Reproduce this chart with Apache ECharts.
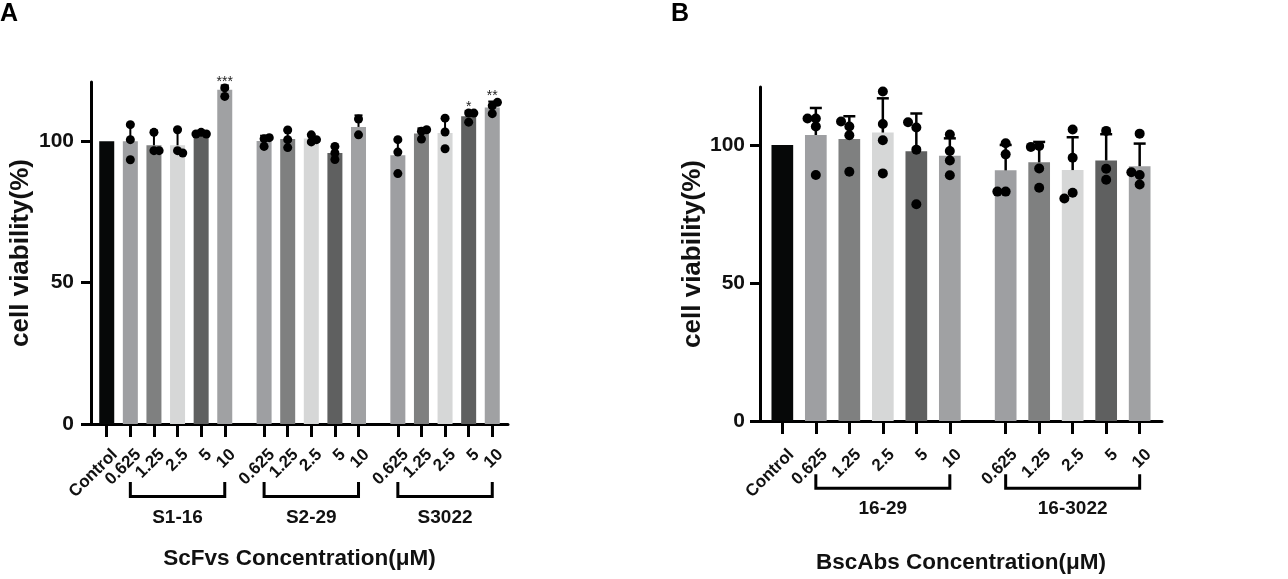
<!DOCTYPE html>
<html>
<head>
<meta charset="utf-8">
<title>cell viability</title>
<script src="https://cdn.jsdelivr.net/npm/echarts@6/dist/echarts.min.js"></script>
<style>
html, body { margin: 0; padding: 0; background: #fff; }
#chart { width: 1288px; height: 579px; }
</style>
</head>
<body>
<div id="chart"></div>
<script>
// ---- data ----
var doses = ['0.625', '1.25', '2.5', '5', '10'];
var yTicks = [0, 50, 100];

// panel A : ScFvs
var groupsA = ['S1-16', 'S2-29', 'S3022'];
var meanA = [100, 100, 98.6, 98.6, 103.3, 118.3, 100.1, 100.8, 101, 95.9, 105.1, 95.1, 102.8, 103, 108.9, 112];
var sdA = [0, 6.2, 5.2, 5.8, 0.4, 1.5, 1.9, 3.1, 1.3, 2.3, 4.1, 5.7, 1.8, 5.6, 1.9, 2.1];
var pointsA = [
  [],
  [105.9, 100.6, 93.5], [103.2, 96.7, 96.7], [104.1, 96.7, 95.9], [103.2, 102.6, 102.6], [118.9, 115.9],
  [98.2, 100.9, 101.3], [104.0, 100.6, 97.8], [102.3, 100.6, 99.8], [98.2, 95.9, 93.6], [107.9, 102.3],
  [100.6, 96.2, 88.6], [100.8, 103.6, 104.1], [108.2, 103.3, 97.4], [106.8, 110, 110], [109.8, 112.6, 113.8]
];
var starsA = ['', '', '', '', '', '***', '', '', '', '', '', '', '', '', '*', '**'];

// panel B : BscAbs
var groupsB = ['16-29', '16-3022'];
var meanB = [100, 103.6, 102.2, 104.5, 97.7, 96.1, 90.8, 93.7, 90.9, 94.4, 92.3];
var sdB = [0, 9.8, 8.2, 12.4, 13.7, 6.3, 9.2, 7.4, 11.9, 9.5, 8.2];
var pointsB = [
  [],
  [109.6, 109.6, 106.7, 89.1], [106.7, 108.5, 103.5, 90.3], [119.4, 107.6, 101.7, 89.7],
  [106.3, 108.2, 98.3, 78.5], [103.8, 97.8, 94.4, 89.0],
  [100.6, 96.6, 83.1, 83.1], [99.6, 99.3, 91.5, 84.5], [105.6, 95.4, 82.7, 80.6],
  [105.1, 91.4, 87.4], [104.1, 89.1, 90.1, 85.7]
];
var starsB = ['', '', '', '', '', '', '', '', '', '', ''];

// ---- styles ----
var FONT = "'Liberation Sans', Arial, Helvetica, sans-serif";
var INK = '#111';
var controlColor = '#060808';
var doseColors = ['#9e9fa2', '#7f8080', '#d6d7d7', '#5f6060', '#a0a1a3'];

// slots on the category axis: 3 slots per bar, 5 between groups, 2 at each end
function layoutSlots(nGroups, nDoses) {
  var pos = [2], span = [];
  var s = 2;
  for (var g = 0; g < nGroups; g++) {
    s += (g === 0 ? 3 : 5);
    var first = s;
    for (var d = 0; d < nDoses; d++) {
      if (d > 0) s += 3;
      pos.push(s);
    }
    span.push([first, s]);
  }
  var labels = [];
  for (var k = 0; k < s + 3; k++) labels.push('');
  labels[pos[0]] = 'Control';
  for (var j = 1; j < pos.length; j++) labels[pos[j]] = doses[(j - 1) % nDoses];
  return { pos: pos, span: span, labels: labels };
}

function makePanel(idx, cfg) {
  var lay = layoutSlots(cfg.groups.length, doses.length);
  var showIt = function (i, v) { return v !== ''; };

  var barData = lay.labels.map(function () { return '-'; });
  var markData = [];
  lay.pos.forEach(function (p, i) {
    var col = i === 0 ? controlColor : doseColors[(i - 1) % doses.length];
    barData[p] = { value: cfg.mean[i], itemStyle: { color: col } };
    markData.push([p, cfg.mean[i], cfg.sd[i], i]);
  });

  var grid = { left: cfg.left, top: cfg.top, width: cfg.width, height: cfg.height };

  var xAxis = {
    type: 'category', gridIndex: idx, data: lay.labels, boundaryGap: false,
    axisLine: { lineStyle: { color: '#000', width: 3 } },
    axisTick: { interval: showIt, length: 13, lineStyle: { color: '#000', width: 3 } },
    axisLabel: { show: false },
    splitLine: { show: false },
    name: cfg.xName, nameLocation: 'middle', nameGap: cfg.xNameGap,
    nameTextStyle: { color: INK, fontSize: 22.5, fontWeight: 'bold', fontFamily: FONT }
  };

  var yAxis = {
    type: 'value', gridIndex: idx, min: 0, max: 121, interval: 50,
    axisLine: { show: true, lineStyle: { color: '#000', width: 3 } },
    axisTick: { show: true, length: 10, customValues: yTicks, lineStyle: { color: '#000', width: 3 } },
    axisLabel: { customValues: yTicks, margin: cfg.yLabelMargin, color: INK, fontSize: 21, fontWeight: 'bold', fontFamily: FONT },
    splitLine: { show: false },
    name: 'cell viability(%)', nameLocation: 'middle', nameRotate: 90, nameGap: cfg.yNameGap,
    nameTextStyle: { color: INK, fontSize: 26, fontWeight: 'bold', fontFamily: FONT }
  };

  var bars = {
    type: 'bar', xAxisIndex: idx, yAxisIndex: idx, data: barData,
    barWidth: cfg.barWidth, silent: true
  };

  // error bars (upper only), jittered points, significance marks, rotated dose labels
  var marks = {
    type: 'custom', xAxisIndex: idx, yAxisIndex: idx, data: markData, clip: false, z: 5,
    renderItem: function (params, api) {
      var x = api.value(0), m = api.value(1), sd = api.value(2), i = api.value(3);
      var base = api.coord([x, m]);
      var top = api.coord([x, m + sd]);
      var zero = api.coord([x, 0]);
      var kids = [];
      var highest = base[1];
      if (sd > 0) {
        kids.push({ type: 'line', shape: { x1: base[0], y1: base[1], x2: top[0], y2: top[1] },
          style: { stroke: '#000', lineWidth: cfg.errWidth } });
        kids.push({ type: 'line', shape: { x1: top[0] - cfg.cap / 2, y1: top[1], x2: top[0] + cfg.cap / 2, y2: top[1] },
          style: { stroke: '#000', lineWidth: cfg.errWidth } });
        highest = top[1];
      }
      var placed = [];
      cfg.points[i].forEach(function (v) {
        var p = api.coord([x, v]);
        var cands = [0, cfg.side * cfg.step, -cfg.side * cfg.step, 2 * cfg.side * cfg.step, -2 * cfg.side * cfg.step];
        var dx = 0;
        for (var c = 0; c < cands.length; c++) {
          var ok = placed.every(function (q) {
            var ddx = p[0] + cands[c] - q[0], ddy = p[1] - q[1];
            return Math.sqrt(ddx * ddx + ddy * ddy) >= cfg.minDist;
          });
          if (ok) { dx = cands[c]; break; }
        }
        placed.push([p[0] + dx, p[1]]);
        highest = Math.min(highest, p[1] - cfg.r);
        kids.push({ type: 'circle', shape: { cx: p[0] + dx, cy: p[1], r: cfg.r }, style: { fill: '#000' } });
      });
      if (cfg.stars[i]) {
        kids.push({ type: 'text', x: base[0], y: highest + 5.5,
          style: { text: cfg.stars[i], fill: '#222', font: '14px ' + FONT, align: 'center', verticalAlign: 'bottom' } });
      }
      kids.push({ type: 'text', x: zero[0] + cfg.labelDx, y: zero[1] + cfg.xLabelMargin, rotation: Math.PI / 4,
        style: { text: i === 0 ? 'Control' : doses[(i - 1) % doses.length], fill: INK,
          font: 'bold 17px ' + FONT, align: 'right', verticalAlign: 'top' } });
      return { type: 'group', children: kids };
    }
  };

  // group brackets under the dose labels
  var bracketData = lay.span.map(function (s, g) { return [s[0], s[1], g]; });
  var brackets = {
    type: 'custom', xAxisIndex: idx, yAxisIndex: idx, data: bracketData, clip: false, silent: true,
    encode: { x: [0, 1], y: -1 },
    renderItem: function (params, api) {
      var a = api.coord([api.value(0), 0]);
      var b = api.coord([api.value(1), 0]);
      var g = api.value(2);
      var yb = a[1] + cfg.brY, ye = a[1] + cfg.brEnd;
      return { type: 'group', children: [
        { type: 'polyline', shape: { points: [[a[0], ye], [a[0], yb], [b[0], yb], [b[0], ye]] },
          style: { stroke: '#000', lineWidth: 3, fill: null } },
        { type: 'text', x: (a[0] + b[0]) / 2, y: a[1] + cfg.grpY,
          style: { text: cfg.groups[g], fill: INK, font: 'bold 19px ' + FONT, align: 'center', verticalAlign: 'middle' } }
      ] };
    }
  };

  return { grid: grid, xAxis: xAxis, yAxis: yAxis, series: [bars, marks, brackets] };
}

var panelA = makePanel(0, {
  groups: groupsA, mean: meanA, sd: sdA, points: pointsA, stars: starsA,
  left: 91, top: 82, width: 417, height: 342,
  barWidth: 15, errWidth: 2, cap: 8, r: 4.5, step: 5.2, minDist: 5, side: 1,
  xName: 'ScFvs Concentration(\u03bcM)', xNameGap: 123, yNameGap: 57, yLabelMargin: 17,
  xLabelMargin: 22, labelDx: 2,
  brY: 72.5, brEnd: 58, grpY: 94
});
var panelB = makePanel(1, {
  groups: groupsB, mean: meanB, sd: sdB, points: pointsB, stars: starsB,
  left: 760, top: 87, width: 402, height: 336,
  barWidth: 21.7, errWidth: 2.5, cap: 12, r: 5, step: 8.3, minDist: 6.5, side: -1,
  xName: 'BscAbs Concentration(\u03bcM)', xNameGap: 130, yNameGap: 46, yLabelMargin: 15,
  xLabelMargin: 25, labelDx: 3,
  brY: 67.3, brEnd: 53.3, grpY: 88
});

var chart = echarts.init(document.getElementById('chart'));
chart.setOption({
  animation: false,
  backgroundColor: '#fff',
  textStyle: { fontFamily: FONT },
  graphic: [
    { type: 'text', left: 0, top: 2, style: { text: 'A', font: 'bold 25px ' + FONT, fill: '#000' } },
    { type: 'text', left: 671, top: 2, style: { text: 'B', font: 'bold 25px ' + FONT, fill: '#000' } }
  ],
  grid: [panelA.grid, panelB.grid],
  xAxis: [panelA.xAxis, panelB.xAxis],
  yAxis: [panelA.yAxis, panelB.yAxis],
  series: panelA.series.concat(panelB.series)
});
</script>
</body>
</html>
